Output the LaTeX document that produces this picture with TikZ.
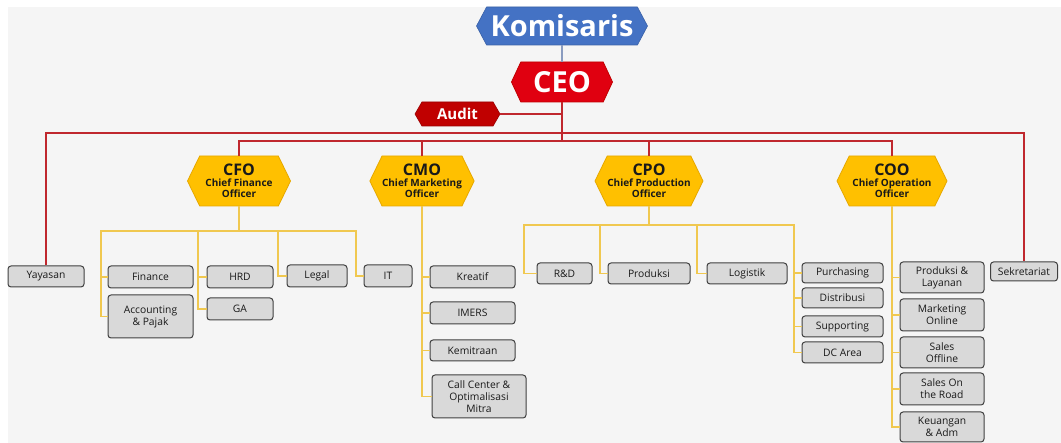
\documentclass[tikz,border=0pt]{standalone}
\usepackage{fontspec}
\setmainfont{Open Sans}
\usetikzlibrary{shapes.symbols}

\definecolor{canvas}{HTML}{F5F5F5}
\definecolor{kblue}{HTML}{4472C4}
\definecolor{ceored}{HTML}{E00010}
\definecolor{auditred}{HTML}{C00000}
\definecolor{gold}{HTML}{FFC000}
\definecolor{goldline}{HTML}{E6A800}
\definecolor{linkred}{HTML}{C0282E}
\definecolor{linkgold}{HTML}{F0C850}
\definecolor{linkblue}{HTML}{8A9CC0}
\definecolor{boxfill}{HTML}{D9D9D9}
\definecolor{boxline}{HTML}{404040}

\tikzset{
  sz/.style 2 args={minimum width=#1pt, minimum height=#2pt},
  hexa/.style={signal, signal to=east and west, inner sep=0pt, align=center},
  top/.style={hexa, fill=kblue, draw=kblue!85!black, line width=0.6pt, text=white,
    font=\bfseries\fontsize{29}{30}\selectfont, signal pointer angle=124},
  ceo/.style={hexa, fill=ceored, draw=auditred, line width=0.8pt, text=white,
    font=\bfseries\fontsize{29}{30}\selectfont, signal pointer angle=130},
  audit/.style={hexa, fill=auditred, draw=auditred!80!black, line width=0.6pt, text=white,
    font=\bfseries\fontsize{15}{16}\selectfont, signal pointer angle=120},
  chief/.style={hexa, fill=gold, draw=goldline, line width=0.8pt, text=black!90,
    font=\bfseries\fontsize{10}{11.5}\selectfont, signal pointer angle=128},
  unit/.style={rectangle, rounded corners=3pt, draw=boxline, fill=boxfill,
    line width=1pt, inner sep=0pt, align=center, text=black!90,
    font=\fontsize{10.3}{12}\selectfont},
  redl/.style={draw=linkred, line width=1.5pt},
  yel/.style={draw=linkgold, line width=1.8pt},
  bluel/.style={draw=linkblue, line width=1.2pt},
}
\newcommand{\chieftitle}[1]{{\fontsize{16}{17}\selectfont #1}\\[-1pt]}

\begin{document}
\begin{tikzpicture}[x=1pt, y=-1pt]
  % page and canvas
  \fill[white] (0,0) rectangle (1061,443);
  \fill[canvas] (8,7) rectangle (1061,443);
  \useasboundingbox (0,0) rectangle (1061,443);

  % board and top management
  \node[top, sz={171}{38}] (kom) at (562,26) {Komisaris};
  \node[ceo, sz={101}{40}] (ceo) at (562,82) {CEO};
  \node[audit, sz={85}{24}] (aud) at (457.5,114) {Audit};

  % chiefs
  \node[chief, sz={103}{50}] (cfo) at (239,181) {\chieftitle{CFO}Chief Finance\\Officer};
  \node[chief, sz={103}{50}] (cmo) at (422,181) {\chieftitle{CMO}Chief Marketing\\Officer};
  \node[chief, sz={108}{50}] (cpo) at (649,181) {\chieftitle{CPO}Chief Production\\Officer};
  \node[chief, sz={110}{50}] (coo) at (892,181) {\chieftitle{COO}Chief Operation\\Officer};

  % units reporting to the CEO directly
  \node[unit, sz={76}{21}] (yay) at (46,276.5) {Yayasan};
  \node[unit, sz={67}{19}] (sek) at (1024,271.5) {Sekretariat};

  % finance units
  \node[unit, sz={85}{22}] (fin) at (150.5,277) {Finance};
  \node[unit, sz={85}{43}] (acc) at (150.5,316.5) {Accounting\\\& Pajak};
  \node[unit, sz={66}{22}] (hrd) at (240,277) {HRD};
  \node[unit, sz={66}{22}] (ga) at (240,309) {GA};
  \node[unit, sz={60}{22}] (leg) at (317,276) {Legal};
  \node[unit, sz={48}{22}] (it) at (388,276) {IT};

  % marketing units
  \node[unit, sz={85}{22}] (kre) at (472.5,277) {Kreatif};
  \node[unit, sz={85}{22}] (ime) at (472.5,313) {IMERS};
  \node[unit, sz={85}{21}] (kem) at (472.5,350.5) {Kemitraan};
  \node[unit, sz={94}{43}] (cc) at (479,396.5) {Call Center \&\\Optimalisasi\\Mitra};

  % production units
  \node[unit, sz={55}{21}] (rd) at (564.5,273.5) {R\&D};
  \node[unit, sz={82}{21}] (prod) at (649,273.5) {Produksi};
  \node[unit, sz={80}{21}] (log) at (747,273.5) {Logistik};
  \node[unit, sz={81}{20}] (pur) at (842.5,273) {Purchasing};
  \node[unit, sz={81}{20}] (dis) at (842.5,298) {Distribusi};
  \node[unit, sz={81}{21}] (sup) at (842.5,326.5) {Supporting};
  \node[unit, sz={81}{21}] (dc) at (842.5,352.5) {DC Area};

  % operation units
  \node[unit, sz={84}{31}] (pl) at (942,277.5) {Produksi \&\\Layanan};
  \node[unit, sz={84}{32}] (mo) at (942,315) {Marketing\\Online};
  \node[unit, sz={84}{31}] (so) at (942,352.5) {Sales\\Offline};
  \node[unit, sz={84}{32}] (sr) at (942,389) {Sales On\\the Road};
  \node[unit, sz={84}{30}] (keu) at (942,427) {Keuangan\\\& Adm};

  % junction rails
  \coordinate (outer) at (562,133);
  \coordinate (inner) at (562,141);
  \coordinate (f1) at (101,231);
  \coordinate (f2) at (198,231);
  \coordinate (f3) at (278,231);
  \coordinate (f4) at (356,231);
  \coordinate (p1) at (524,225);
  \coordinate (p2) at (600,225);
  \coordinate (p3) at (697,225);
  \coordinate (p4) at (794,225);

  % board line
  \draw[bluel] (kom.south) -- (ceo.north);

  % CEO lines
  \draw[redl] (ceo.south) -- (inner);
  \draw[redl] (aud.east) -- (aud.east -| ceo.south);
  \draw[redl] (yay.north) -- (yay.north |- outer) -- (sek.north |- outer) -- (sek.north);
  \draw[redl] (cfo.north) -- (cfo.north |- inner) -- (coo.north |- inner) -- (coo.north);
  \draw[redl] (cmo.north) -- (cmo.north |- inner);
  \draw[redl] (cpo.north) -- (cpo.north |- inner);

  % CFO lines
  \draw[yel] (cfo.south) -- (cfo.south |- f1);
  \draw[yel] (acc.west) -| (f1) -- (f4) |- (it.west);
  \draw[yel] (fin.west) -- (fin.west -| f1);
  \draw[yel] (ga.west) -| (f2);
  \draw[yel] (hrd.west) -- (hrd.west -| f2);
  \draw[yel] (leg.west) -| (f3);

  % CMO lines
  \draw[yel] (cmo.south) |- (cc.west);
  \draw[yel] (kre.west) -- (kre.west -| cmo.south);
  \draw[yel] (ime.west) -- (ime.west -| cmo.south);
  \draw[yel] (kem.west) -- (kem.west -| cmo.south);

  % CPO lines
  \draw[yel] (cpo.south) -- (cpo.south |- p1);
  \draw[yel] (rd.west) -| (p1) -- (p4) |- (dc.west);
  \draw[yel] (prod.west) -| (p2);
  \draw[yel] (log.west) -| (p3);
  \draw[yel] (pur.west) -- (pur.west -| p4);
  \draw[yel] (dis.west) -- (dis.west -| p4);
  \draw[yel] (sup.west) -- (sup.west -| p4);

  % COO lines
  \draw[yel] (coo.south) |- (keu.west);
  \draw[yel] (pl.west) -- (pl.west -| coo.south);
  \draw[yel] (mo.west) -- (mo.west -| coo.south);
  \draw[yel] (so.west) -- (so.west -| coo.south);
  \draw[yel] (sr.west) -- (sr.west -| coo.south);
\end{tikzpicture}
\end{document}
